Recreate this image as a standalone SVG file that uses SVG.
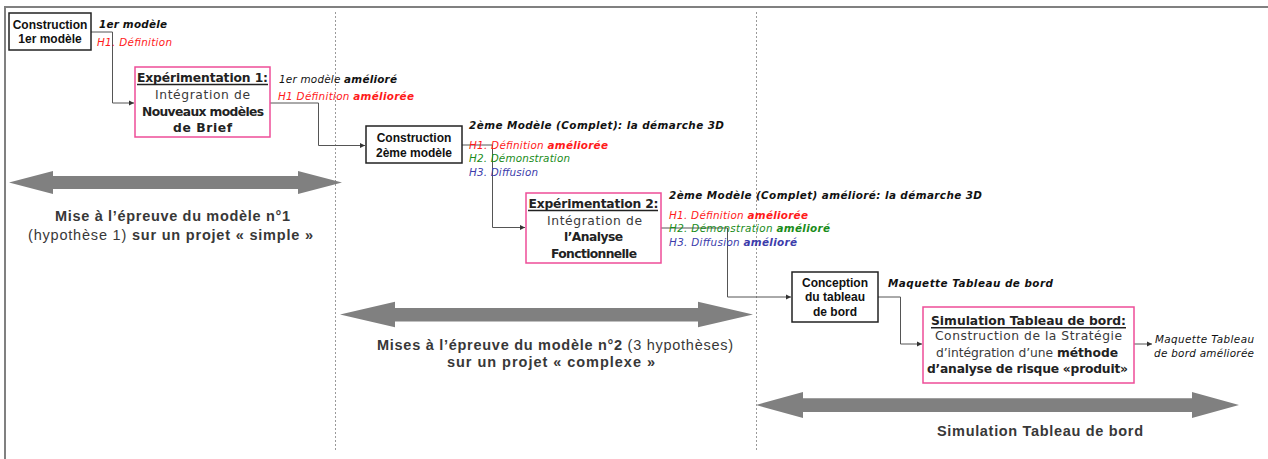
<svg xmlns="http://www.w3.org/2000/svg" width="1268" height="459" viewBox="0 0 1268 459">
<style>
.frame{stroke:#808080;stroke-width:2;fill:none}
.sep{stroke:#9a9a9a;stroke-width:1;stroke-dasharray:2 2;fill:none}
.bbox{fill:#fff;stroke:#222;stroke-width:1.5}
.pbox{fill:#fff;stroke:#ee4d98;stroke-width:1.5}
.btxt{font-family:"Liberation Sans",Arial,sans-serif;font-weight:bold;font-size:12px;fill:#111;text-anchor:middle}
.ptxt{font-family:"DejaVu Sans",Verdana,sans-serif;font-size:12.3px;fill:#3a3a3a;text-anchor:middle}
.ptitle{font-family:"DejaVu Sans",Verdana,sans-serif;font-size:12.3px;font-weight:600;fill:#222;text-anchor:middle}
.ul{stroke:#222;stroke-width:1.5}
.b{font-weight:bold;fill:#222}
.lbl{font-family:"DejaVu Sans",Verdana,sans-serif;font-size:10.4px;font-style:italic;fill:#111}
.bi{font-weight:bold}
.red{fill:#ff1a1a}
.grn{fill:#1a8c1a}
.blu{fill:#3c3cab}
.conn{stroke:#555;stroke-width:1;fill:none;marker-end:url(#ah)}
.big{fill:#808080}
.cap{font-family:"Liberation Sans",Arial,sans-serif;font-size:14.5px;fill:#383838;text-anchor:middle}
</style>
<defs>
<marker id="ah" markerWidth="6" markerHeight="6" refX="5" refY="3" orient="auto" markerUnits="userSpaceOnUse">
<path d="M0,0.5 L5,3 L0,5.5 Z" fill="#333"/>
</marker>
</defs>
<rect width="1268" height="459" fill="#fff"/>
<path class="frame" d="M5,459 V7 H1268"/>
<line class="sep" x1="335.5" y1="12" x2="335.5" y2="452"/>
<line class="sep" x1="756.5" y1="12" x2="756.5" y2="452"/>

<g id="connectors">
<path class="conn" d="M91,32 H112.5 V103 H134"/>
<path class="conn" d="M270,103 H318.5 V145.5 H365"/>
<path class="conn" d="M462,145 H492.5 V227.5 H525"/>
<path class="conn" d="M661,228 H727.5 V297 H791"/>
<path class="conn" d="M878,297 H900.5 V344 H922"/>
<path class="conn" d="M1134,344 H1152"/>
</g>

<g id="n1">
<rect class="bbox" x="9" y="13" width="82" height="37"/>
<text class="btxt" x="50" y="29">Construction</text>
<text class="btxt" x="50" y="43">1er modèle</text>
</g>
<g id="l1">
<text class="lbl bi" x="99" y="27.5" textLength="68">1er modèle</text>
<text class="lbl red" x="97" y="45.5" textLength="75">H1. Définition</text>
</g>

<g id="n2">
<rect class="pbox" x="135" y="67" width="135" height="70"/>
<text class="ptitle" x="202.5" y="82" textLength="131">Expérimentation 1:</text>
<line class="ul" x1="137" y1="84.5" x2="268" y2="84.5"/>
<text class="ptxt" x="202.5" y="98.5" textLength="95">Intégration de</text>
<text class="ptxt b" x="203" y="115.7" textLength="122">Nouveaux modèles</text>
<text class="ptxt b" x="202.5" y="132.3" textLength="59">de Brief</text>
</g>
<g id="l2">
<text class="lbl" x="279" y="83" textLength="118">1er modèle <tspan class="bi">amélioré</tspan></text>
<text class="lbl red" x="278" y="100" textLength="136">H1 Définition <tspan class="bi">améliorée</tspan></text>
</g>

<g id="n3">
<rect class="bbox" x="366" y="126" width="96" height="37"/>
<text class="btxt" x="414" y="142">Construction</text>
<text class="btxt" x="414" y="157">2ème modèle</text>
</g>
<g id="l3">
<text class="lbl bi" x="469" y="129" textLength="255">2ème Modèle (Complet): la démarche 3D</text>
<text class="lbl red" x="469" y="148.5" textLength="139">H1. Définition <tspan class="bi">améliorée</tspan></text>
<text class="lbl grn" x="469" y="162" textLength="101">H2. Démonstration</text>
<text class="lbl blu" x="469" y="175.5" textLength="69">H3. Diffusion</text>
</g>

<g id="n4">
<rect class="pbox" x="526" y="193" width="135" height="70"/>
<text class="ptitle" x="593.5" y="208" textLength="130">Expérimentation 2:</text>
<line class="ul" x1="528" y1="210.5" x2="658" y2="210.5"/>
<text class="ptxt" x="594.5" y="224.5" textLength="95">Intégration de</text>
<text class="ptxt b" x="593.5" y="241" textLength="59">l’Analyse</text>
<text class="ptxt b" x="594" y="257.7" textLength="86">Fonctionnelle</text>
</g>
<g id="l4">
<text class="lbl bi" x="669" y="199" textLength="313">2ème Modèle (Complet) amélioré: la démarche 3D</text>
<text class="lbl red" x="669" y="218.5" textLength="139">H1. Définition <tspan class="bi">améliorée</tspan></text>
<text class="lbl grn" x="669" y="232" textLength="161">H2. Démonstration <tspan class="bi">amélioré</tspan></text>
<text class="lbl blu" x="669" y="246" textLength="128">H3. Diffusion <tspan class="bi">amélioré</tspan></text>
</g>

<g id="n5">
<rect class="bbox" x="792" y="272" width="86" height="50"/>
<text class="btxt" x="835" y="287">Conception</text>
<text class="btxt" x="835" y="301">du tableau</text>
<text class="btxt" x="835" y="315.5">de bord</text>
</g>
<g id="l5">
<text class="lbl bi" x="888" y="286.5" textLength="165">Maquette Tableau de bord</text>
</g>

<g id="n6">
<rect class="pbox" x="923" y="307" width="211" height="76"/>
<text class="ptitle" x="1028.5" y="325.3" textLength="195">Simulation Tableau de bord:</text>
<line class="ul" x1="931" y1="327.8" x2="1126" y2="327.8"/>
<text class="ptxt" x="1028.5" y="340.3" textLength="187">Construction de la Stratégie</text>
<text class="ptxt" x="1027" y="356.5" textLength="182">d’intégration d’une <tspan class="b">méthode</tspan></text>
<text class="ptxt b" x="1027.5" y="373" textLength="201">d’analyse de risque «produit»</text>
</g>
<g id="l6">
<text class="lbl" x="1254" y="342.5" text-anchor="end" textLength="99">Maquette Tableau</text>
<text class="lbl" x="1254" y="357" text-anchor="end" textLength="100">de bord améliorée</text>
</g>

<g id="phase1">
<polygon class="big" points="9,182.5 53,171 53,176 298,176 298,171 342,182.5 298,194 298,189 53,189 53,194"/>
<text class="cap" x="172.5" y="221" font-weight="bold" textLength="235">Mise à l’épreuve du modèle n°1</text>
<text class="cap" x="170.5" y="239.5" textLength="285">(hypothèse 1) <tspan font-weight="bold">sur un projet  « simple »</tspan></text>
</g>
<g id="phase2">
<polygon class="big" points="340,314.5 395,301.7 395,308 698,308 698,301.7 753,314.5 698,327.3 698,321.5 395,321.5 395,327.3"/>
<text class="cap" x="555" y="350.3" textLength="356"><tspan font-weight="bold">Mises à l’épreuve du modèle n°2</tspan> (3 hypothèses)</text>
<text class="cap" x="551" y="367" font-weight="bold" textLength="208">sur un projet  « complexe »</text>
</g>
<g id="phase3">
<polygon class="big" points="756,405 803,392 803,398.3 1192,398.3 1192,392 1239,405 1192,418 1192,412 803,412 803,418"/>
<text class="cap" x="1040" y="436.3" font-weight="bold" textLength="206">Simulation Tableau de bord</text>
</g>
</svg>
